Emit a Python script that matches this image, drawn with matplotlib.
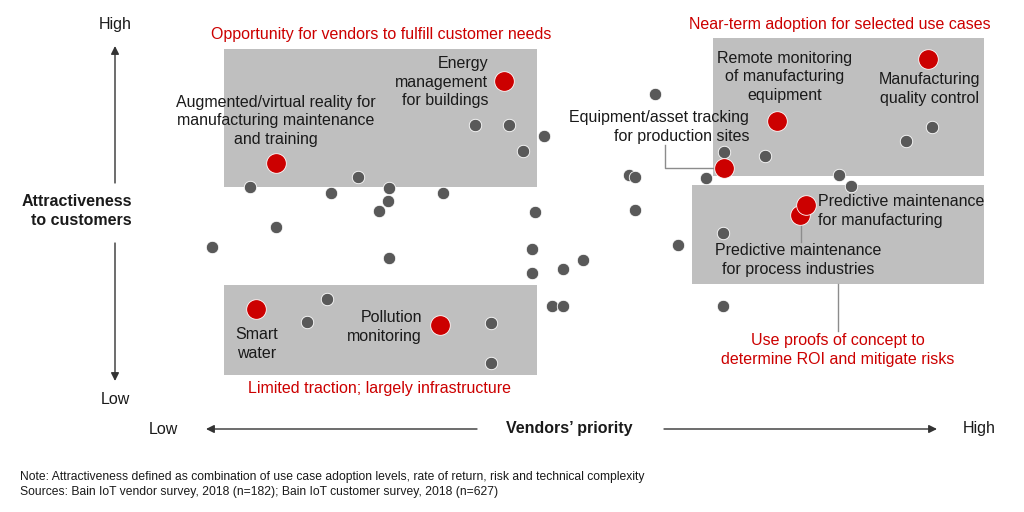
import matplotlib.pyplot as plt
from matplotlib.patches import Rectangle

# ------------------------------------------------------------------
# Data (positions, in picture units: x right, y down)
# ------------------------------------------------------------------
other_x = [250, 331, 358, 389, 388, 379, 443, 276, 212, 389,
           475, 509, 544, 523, 655, 629, 635, 724, 706, 535,
           635, 532, 678, 723, 583, 563, 532, 552, 563, 491,
           723, 932, 906, 765, 839, 851, 327, 307, 491]
other_y = [187, 193, 177, 188, 201, 211, 193, 227, 247, 258,
           125, 125, 136, 151, 94, 175, 177, 152, 178, 212,
           210, 249, 245, 233, 260, 269, 273, 306, 306, 323,
           306, 127, 141, 156, 175, 186, 299, 322, 363]

key_names = ["Augmented/virtual reality for\nmanufacturing maintenance\nand training",
             "Energy\nmanagement\nfor buildings",
             "Remote monitoring\nof manufacturing\nequipment",
             "Manufacturing\nquality control",
             "Equipment/asset tracking\nfor production sites",
             "Predictive maintenance\nfor process industries",
             "Predictive maintenance\nfor manufacturing",
             "Smart\nwater",
             "Pollution\nmonitoring"]
key_x = [276, 504, 777, 928, 724, 800, 806, 256, 440]
key_y = [163, 81, 121, 59, 168, 215, 205, 309, 325]

zone_titles = ["Opportunity for vendors to fulfill customer needs",
               "Near-term adoption for selected use cases",
               "Use proofs of concept to\ndetermine ROI and mitigate risks",
               "Limited traction; largely infrastructure"]

note_lines = ["Note: Attractiveness defined as combination of use case adoption levels, rate of return, risk and technical complexity",
              "Sources: Bain IoT vendor survey, 2018 (n=182); Bain IoT customer survey, 2018 (n=627)"]

RED = "#cc0000"
DOT = "#595959"
BOX = "#bfbfbf"
INK = "#1a1a1a"

plt.rcParams["font.family"] = ["Liberation Sans", "DejaVu Sans"]

fig = plt.figure(figsize=(10.24, 5.12), dpi=100)
ax = fig.add_axes([0, 0, 1, 1])
ax.set_xlim(0, 1024)
ax.set_ylim(512, 0)
ax.axis("off")

# shaded zones
for (x0, y0, x1, y1) in [(224, 49, 537, 187), (713, 38, 984, 176),
                         (692, 185, 984, 284), (224, 285, 537, 375)]:
    ax.add_patch(Rectangle((x0, y0), x1 - x0, y1 - y0, fc=BOX, ec="none", zorder=1))

# connector lines
ax.plot([665, 665, 714], [145, 168, 168], color="#8c8c8c", lw=1, zorder=2)
ax.plot([801, 801], [215, 242], color="#8c8c8c", lw=1, zorder=2)
ax.plot([838, 838], [284, 331], color="#8c8c8c", lw=1, zorder=2)

# points
ax.scatter(other_x, other_y, s=80, color=DOT, edgecolors="white", linewidths=0.6, zorder=3)
ax.scatter(key_x, key_y, s=200, color=RED, edgecolors="white", linewidths=0.6, zorder=4)

# labels of key use cases
fs = 11.5
ls = 1.3
label_pos = [(276, 121, "center"), (488, 82, "right"), (785, 77, "center"),
             (930, 89, "center"), (749, 127, "right"), (798, 260, "center"),
             (818, 211, "left"), (257, 344, "center"), (422, 327, "right")]
for name, (tx, ty, ha) in zip(key_names, label_pos):
    ax.text(tx, ty, name, ha=ha, va="center", fontsize=fs, color=INK,
            multialignment="center" if ha == "center" else ha,
            linespacing=ls, zorder=5)

# zone titles
title_pos = [(381, 35), (840, 24), (838, 350), (380, 389)]
for t, (tx, ty) in zip(zone_titles, title_pos):
    ax.text(tx, ty, t, ha="center", va="center", fontsize=fs, color=RED,
            linespacing=ls, zorder=5)

# vertical axis
ax.text(115, 24, "High", ha="center", va="center", fontsize=fs, color=INK)
ax.text(115, 400, "Low", ha="center", va="center", fontsize=fs, color=INK)
ax.text(132, 211, "Attractiveness\nto customers", ha="right", va="center",
        fontsize=fs, fontweight="bold", color=INK, linespacing=ls)
arrow = dict(arrowstyle="-|>", color="#333333", lw=1, mutation_scale=12,
             shrinkA=0, shrinkB=0)
ax.annotate("", xy=(115, 46), xytext=(115, 183), arrowprops=arrow)
ax.annotate("", xy=(115, 381), xytext=(115, 243), arrowprops=arrow)

# horizontal axis
ax.text(163, 429, "Low", ha="center", va="center", fontsize=fs, color=INK)
ax.text(979, 429, "High", ha="center", va="center", fontsize=fs, color=INK)
ax.text(569, 429, "Vendors\u2019 priority", ha="center", va="center",
        fontsize=fs, fontweight="bold", color=INK)
ax.annotate("", xy=(206, 429), xytext=(477, 429), arrowprops=arrow)
ax.annotate("", xy=(937, 429), xytext=(664, 429), arrowprops=arrow)

# notes
for i, line in enumerate(note_lines):
    ax.text(20, 477 + 15 * i, line, ha="left", va="center", fontsize=8.7,
            color=INK)

fig.savefig("out.png", dpi=100)
